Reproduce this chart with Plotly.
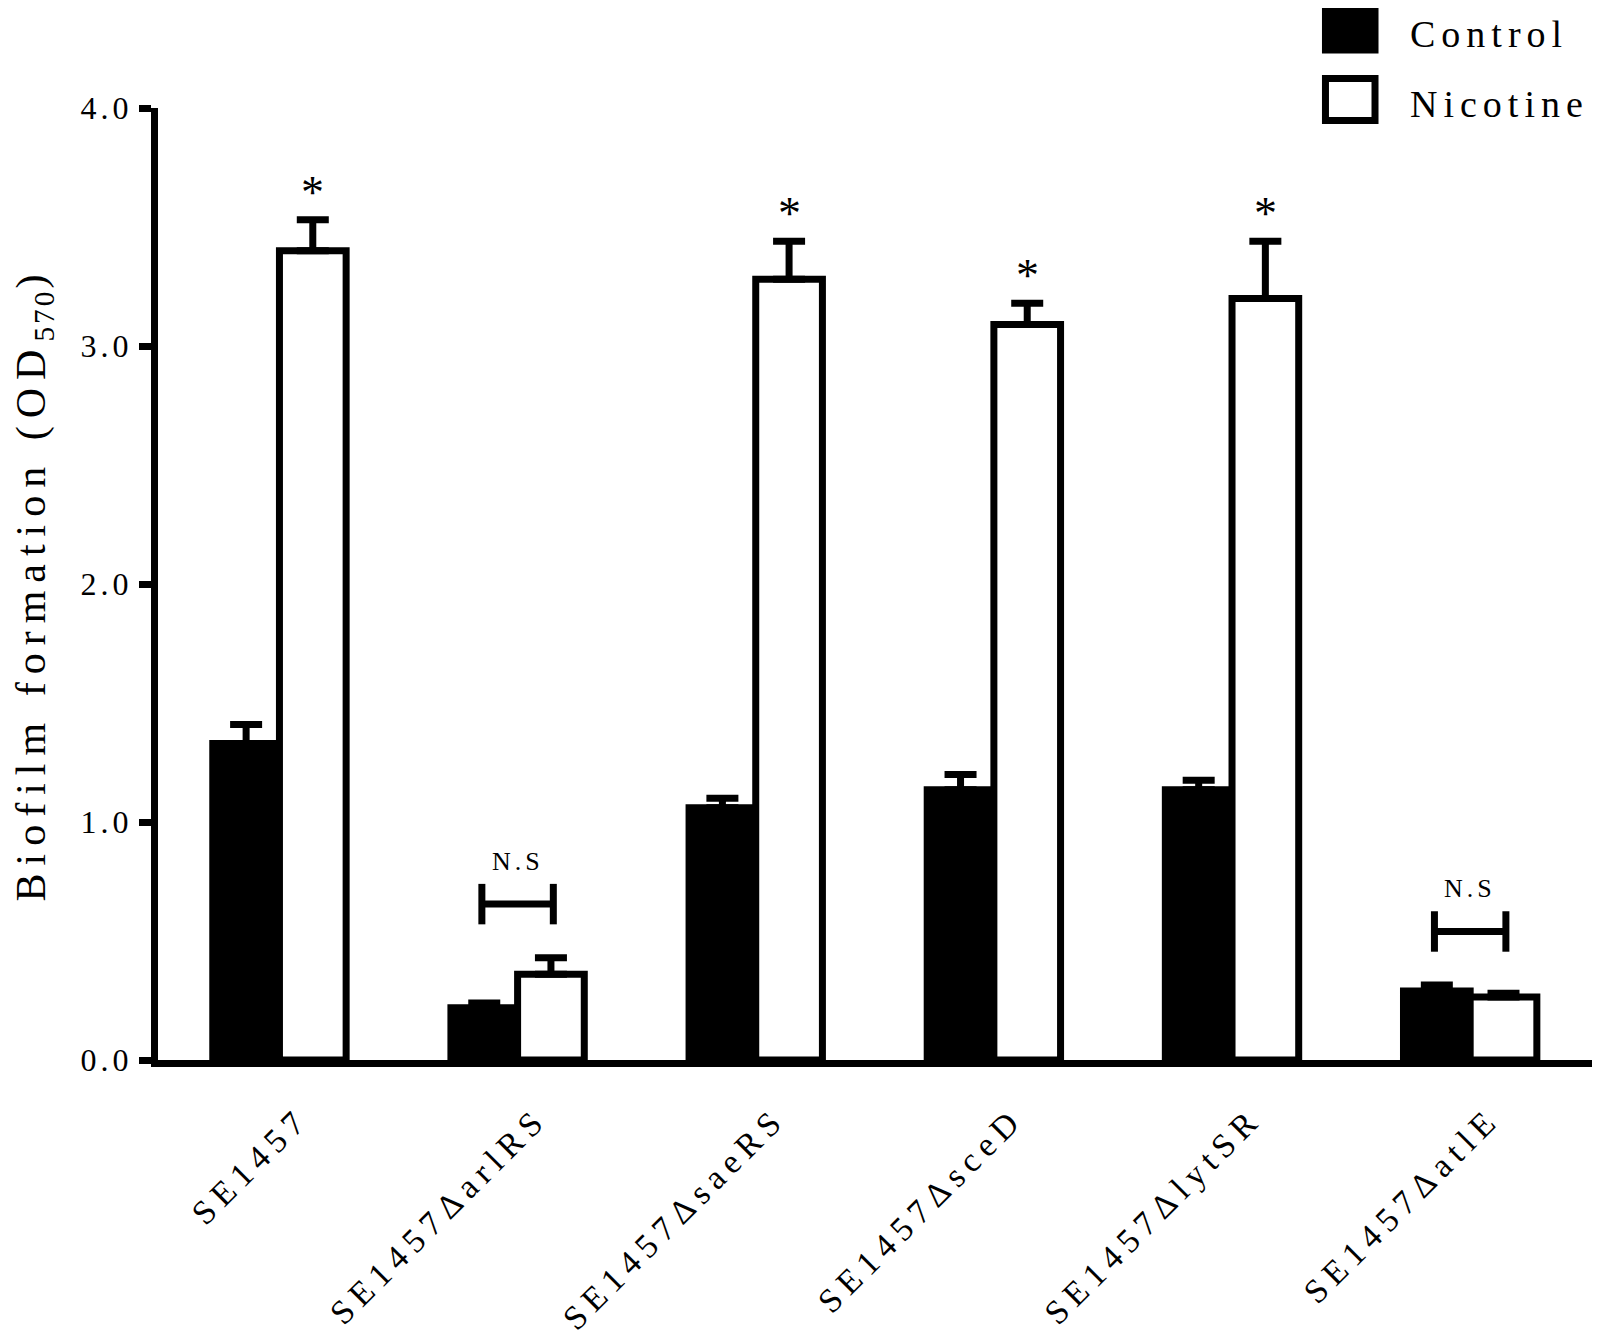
import plotly.graph_objs as go

# biofilm formation, OD570
strains = ["SE1457", "SE1457ΔarlRS", "SE1457ΔsaeRS",
           "SE1457ΔsceD", "SE1457ΔlytSR", "SE1457ΔatlE"]
control = [1.33, 0.22, 1.06, 1.135, 1.135, 0.29]
control_err = [0.08, 0.02, 0.04, 0.065, 0.04, 0.025]
nicotine = [3.40, 0.36, 3.28, 3.09, 3.20, 0.265]
nicotine_err = [0.13, 0.07, 0.16, 0.09, 0.24, 0.015]
marks = ["*", "N.S", "*", "*", "*", "N.S"]
y_ticks = [0, 1, 2, 3, 4]

FONT = "Liberation Serif"
BAR_W = 0.28
LINE = 7


def spaced(text, px):
  # the figure uses widely tracked lettering
  return '<span style="letter-spacing:%dpx">%s</span>' % (px, text)


def bar_trace(name, values, errors, fill, offset):
  return go.Bar(
    x=strains,
    y=values,
    name=name,
    width=BAR_W,
    offset=offset,
    showlegend=False,
    marker=dict(color=fill, line=dict(color="black", width=LINE)),
    error_y=dict(type="data", array=errors, symmetric=False,
                 thickness=LINE, width=16, color="black"),
  )


traces = [
  bar_trace("Control", control, control_err, "black", -BAR_W),
  bar_trace("Nicotine", nicotine, nicotine_err, "white", 0),
]

annotations = []
shapes = []
for i, mark in enumerate(marks):
  if mark == "*":
    annotations.append(dict(
      x=i + BAR_W / 2, y=nicotine[i] + nicotine_err[i], xref="x", yref="y",
      text="*", showarrow=False, yanchor="bottom",
      font=dict(family=FONT, size=46, color="black")))
  else:
    top = max(control[i] + control_err[i], nicotine[i] + nicotine_err[i])
    yb = top + 0.225
    line = dict(color="black", width=LINE)
    shapes.append(dict(type="line", xref="x", yref="y",
                       x0=i - 0.15, x1=i + 0.15, y0=yb, y1=yb, line=line))
    for xe in (i - 0.15, i + 0.15):
      shapes.append(dict(type="line", xref="x", yref="y",
                         x0=xe, x1=xe, y0=yb - 0.085, y1=yb + 0.085, line=line))
    annotations.append(dict(
      x=i, y=yb, xref="x", yref="y", text=spaced("N.S", 4), showarrow=False,
      yanchor="bottom", yshift=26,
      font=dict(family=FONT, size=26, color="black")))

# legend drawn by hand so the keys are large squares
legend_items = [("Control", "black", 1.105), ("Nicotine", "white", 1.031)]
for label, fill, ytop in legend_items:
  shapes.append(dict(type="rect", xref="paper", yref="paper",
                     x0=0.8130, x1=0.8475, y0=ytop - 0.044, y1=ytop,
                     fillcolor=fill, line=dict(color="black", width=LINE)))
  annotations.append(dict(
    x=0.8705, y=ytop - 0.027, xref="paper", yref="paper",
    text=spaced(label, 6), showarrow=False, xanchor="left", yanchor="middle",
    font=dict(family=FONT, size=38, color="black")))

y_title = (spaced("Biofilm formation (OD", 8) + "<sub>" + spaced("570", 3)
           + "</sub>" + spaced(")", 8))

layout = go.Layout(
  width=1600,
  height=1340,
  margin=dict(l=150, r=14, t=100, b=288, autoexpand=False),
  paper_bgcolor="white",
  plot_bgcolor="white",
  barmode="overlay",
  font=dict(family=FONT, color="black"),
  xaxis=dict(
    type="category",
    range=[-0.51, 5.52],
    tickvals=strains,
    ticktext=[spaced(s, 7) for s in strains],
    showline=True, linewidth=LINE, linecolor="black",
    ticks="", showgrid=False, zeroline=False,
    tickangle=-45,
    ticklabelstandoff=18,
    ticklabelshift=20,
    tickfont=dict(family=FONT, size=34, color="black"),
  ),
  yaxis=dict(
    range=[0, 4],
    tickvals=y_ticks,
    ticktext=[spaced("%.1f" % v, 4) for v in y_ticks],
    showline=True, linewidth=LINE, linecolor="black",
    ticks="outside", ticklen=12, tickwidth=LINE, tickcolor="black",
    showgrid=False, zeroline=False,
    tickfont=dict(family=FONT, size=32, color="black"),
    title=dict(text=y_title,
               font=dict(family=FONT, size=42, color="black"),
               standoff=45),
  ),
  shapes=shapes,
  annotations=annotations,
)

fig = go.Figure(data=traces, layout=layout)
fig.write_html("out.html")
